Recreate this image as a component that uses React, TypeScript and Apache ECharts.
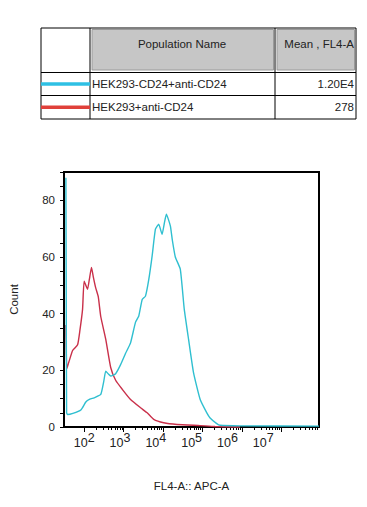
import React, { useEffect, useRef } from "react";
import * as echarts from "echarts";

// x positions are in display decades (2 = 10^2, 3 = 10^3 ...), y = count
const cyanX = [1.538, 1.546, 1.556, 1.582, 1.715, 1.917, 2.043, 2.144, 2.252, 2.421, 2.496, 2.547, 2.62, 2.673, 2.798, 2.924, 3.05, 3.176, 3.302, 3.385, 3.471, 3.554, 3.637, 3.723, 3.806, 3.889, 3.975, 4.033, 4.083, 4.184, 4.234, 4.31, 4.436, 4.537, 4.645, 4.771, 4.94, 5.108, 5.191, 5.36, 5.443, 5.947, 7.95];
const cyanY = [88, 50, 5, 4.4, 4.8, 6, 8.8, 9.8, 10.3, 11.5, 16, 19.7, 18.6, 18, 18.8, 22, 26, 29.7, 37, 39.2, 45, 46.2, 52, 60.4, 69.8, 71.6, 68, 72, 75.1, 71, 66, 60, 55.7, 41.5, 31, 19.2, 9.7, 5, 3.2, 1.2, 0.6, 0.4, 0.3];
const redX = [1.54, 1.56, 1.615, 1.708, 1.834, 1.892, 1.96, 2.0, 2.086, 2.131, 2.186, 2.232, 2.295, 2.358, 2.421, 2.547, 2.673, 2.798, 2.967, 3.176, 3.428, 3.597, 3.763, 4.015, 4.353, 4.94, 5.317, 5.947];
const redY = [36, 20.5, 23, 27, 29, 34, 41.5, 51.5, 48.6, 52, 56.3, 53, 49, 46, 39, 31, 21, 16.5, 13.3, 9.7, 6.8, 5, 2.7, 1.5, 0.9, 0.5, 0.2, 0];

const decades = [2, 3, 4, 5, 6, 7];
const yTicks = [0, 20, 40, 60, 80];

const populations = ["HEK293-CD24+anti-CD24", "HEK293+anti-CD24"];
const means = ["1.20E4", "278"];
const tableHeaders = ["Population Name", "Mean , FL4-A"];

const CYAN = "#2fbfd0";
const RED = "#c9304a";
const FONT = "'Liberation Sans', Arial, sans-serif";

export default function App() {
  const ref = useRef<HTMLDivElement>(null);
  useEffect(() => {
    if (!ref.current) return;
    const chart = echarts.init(ref.current, null, { renderer: "svg" });
    const minor: number[] = [];
    for (let n = 2; n <= 7; n++) {
      for (let k = 2; k <= 9; k++) {
        const v = n + Math.log10(k);
        if (v < 7.95) minor.push(v);
      }
    }
    const xMin = 1.49;
    const xMax = 7.95;
    const grid = { left: 63, top: 172, right: 48, bottom: 80 };
    const tableY = 28;
    const rowY = [tableY, 72.5, 95.5, 119];
    const colX = [41, 90, 275, 356];
    const graphic: any[] = [];
    graphic.push({
      type: "rect",
      shape: { x: colX[0], y: rowY[0], width: colX[3] - colX[0], height: rowY[3] - rowY[0] },
      style: { fill: "#fff", stroke: "#000", lineWidth: 1 },
      silent: true,
    });
    graphic.push({
      type: "rect",
      shape: { x: 92, y: 29.5, width: 181.5, height: 40.5 },
      style: { fill: "#c6c6c6", stroke: "#9a9a9a", lineWidth: 1 },
    });
    graphic.push({
      type: "rect",
      shape: { x: 277, y: 29.5, width: 77.5, height: 40.5 },
      style: { fill: "#c6c6c6", stroke: "#9a9a9a", lineWidth: 1 },
    });
    [colX[1], colX[2]].forEach((x) =>
      graphic.push({ type: "line", shape: { x1: x, y1: rowY[0], x2: x, y2: rowY[3] }, style: { stroke: "#000", lineWidth: 1 } })
    );
    [rowY[1], rowY[2]].forEach((y) =>
      graphic.push({ type: "line", shape: { x1: colX[0], y1: y, x2: colX[3], y2: y }, style: { stroke: "#000", lineWidth: 1 } })
    );
    graphic.push({
      type: "text",
      x: 182,
      y: 44,
      style: { text: tableHeaders[0], font: `11.5px ${FONT}`, fill: "#222", align: "center", verticalAlign: "middle" },
    });
    graphic.push({
      type: "text",
      x: 354,
      y: 44,
      style: { text: tableHeaders[1], font: `11.5px ${FONT}`, fill: "#222", align: "right", verticalAlign: "middle" },
    });
    const legendColors = ["#2ec0e4", "#e0403a"];
    populations.forEach((p, i) => {
      const cy = (rowY[i + 1] + rowY[i + 2]) / 2;
      graphic.push({
        type: "line",
        shape: { x1: colX[0], y1: cy, x2: colX[1], y2: cy },
        style: { stroke: legendColors[i], lineWidth: 3.5 },
      });
      graphic.push({
        type: "text",
        x: 92,
        y: cy,
        style: { text: p, font: `11.5px ${FONT}`, fill: "#222", align: "left", verticalAlign: "middle" },
      });
      graphic.push({
        type: "text",
        x: 354,
        y: cy,
        style: { text: means[i], font: `11.5px ${FONT}`, fill: "#222", align: "right", verticalAlign: "middle" },
      });
    });

    chart.setOption({
      animation: false,
      textStyle: { fontFamily: FONT },
      grid: { ...grid, show: true, borderColor: "#000", borderWidth: 2, backgroundColor: "transparent" },
      graphic,
      xAxis: [
        {
          type: "value",
          min: xMin,
          max: xMax,
          name: "FL4-A:: APC-A",
          nameLocation: "middle",
          nameGap: 53,
          nameTextStyle: { fontSize: 11.5, color: "#222", fontFamily: FONT, verticalAlign: "top" },
          axisLine: { show: false },
          splitLine: { show: false },
          axisTick: { show: true, customValues: decades, length: 5, lineStyle: { color: "#000", width: 1 } },
          axisLabel: { show: false },
        },
        {
          type: "value",
          min: xMin,
          max: xMax,
          position: "bottom",
          axisLine: { show: false },
          splitLine: { show: false },
          axisTick: { show: true, customValues: minor, length: 3, lineStyle: { color: "#000", width: 1 } },
          axisLabel: { show: false },
        },
        {
          type: "value",
          min: 1.436,
          max: 8.556,
          position: "bottom",
          axisLine: { show: false },
          splitLine: { show: false },
          axisTick: { show: false },
          axisLabel: {
            show: true,
            customValues: decades,
            margin: 4,
            formatter: (v: number) => `{b|10}{s|${v}}`,
            rich: {
              b: { fontSize: 12.5, color: "#222", fontFamily: FONT },
              s: { fontSize: 12.5, color: "#222", fontFamily: FONT, padding: [0, 0, 10, 0] },
            },
          },
        },
      ],
      yAxis: {
        type: "value",
        min: 0,
        max: 90,
        interval: 5,
        name: "Count",
        nameLocation: "middle",
        nameGap: 44,
        nameTextStyle: { fontSize: 11.5, color: "#222", fontFamily: FONT },
        axisLine: { show: false },
        splitLine: { show: false },
        axisTick: { show: true, length: 4, lineStyle: { color: "#000", width: 1 } },
        axisLabel: {
          fontSize: 11.5,
          color: "#222",
          margin: 9,
          formatter: (v: number) => (yTicks.includes(v) ? String(v) : ""),
        },
      },
      series: [
        {
          type: "line",
          name: populations[1],
          xAxisIndex: 0,
          data: redX.map((x, i) => [x, redY[i]]),
          showSymbol: false,
          smooth: 0.15,
          clip: false,
          lineStyle: { color: RED, width: 1.4 },
          z: 3,
        },
        {
          type: "line",
          name: populations[0],
          xAxisIndex: 0,
          data: cyanX.map((x, i) => [x, cyanY[i]]),
          showSymbol: false,
          smooth: 0.15,
          clip: false,
          lineStyle: { color: CYAN, width: 1.4 },
          z: 4,
        },
      ],
    });
    return () => chart.dispose();
  }, []);
  return <div ref={ref} style={{ position: "fixed", left: 0, top: 0, width: 367, height: 507, background: "#fff" }} />;
}
